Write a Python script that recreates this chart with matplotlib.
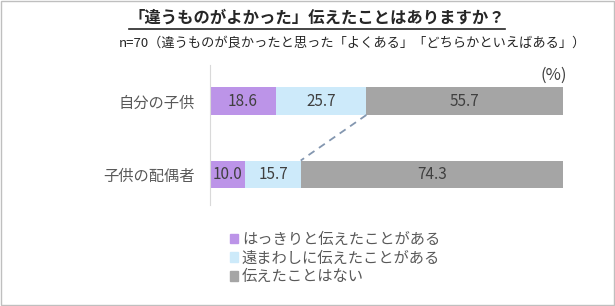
import numpy as np
import matplotlib
matplotlib.use('Agg')
import matplotlib.pyplot as plt
from matplotlib.patches import Patch, Rectangle
from matplotlib.lines import Line2D

plt.rcParams['font.family'] = ['Noto Sans CJK JP', 'DejaVu Sans']

# Данні
categories = ['自分の子供', '子供の配偶者']
series_names = ['はっきりと伝えたことがある', '遠まわしに伝えたことがある', '伝えたことはない']
values = [
    [18.6, 10.0],
    [25.7, 15.7],
    [55.7, 74.3],
]
colors = ['#BC94E8', '#CDEAFA', '#A5A5A5']
title = '「違うものがよかった」伝えたことはありますか？'
subtitle = 'n=70（違うものが良かったと思った「よくある」「どちらかといえばある」）'

fig = plt.figure(figsize=(6.15, 3.06), dpi=100)
ax = fig.add_axes([210 / 615, 1 - 205 / 306, 353 / 615, 140 / 306])

y = np.array([1, 0])
h = 0.38
left = np.zeros(len(categories))
for name, vals, c in zip(series_names, values, colors):
    vals = np.array(vals)
    ax.barh(y, vals, left=left, height=h, color=c, label=name)
    for yi, l, v in zip(y, left, vals):
        ax.text(l + v / 2, yi, f'{v:.1f}', ha='center', va='center',
                fontsize=11, color='#404040')
    left = left + vals

# лінія між сегментами
b1 = values[0][0] + values[1][0]
b2 = values[0][1] + values[1][1]
ax.plot([b1, b2], [1 - h / 2, 0 + h / 2], '--', color='#8497B0', lw=1.3,
        dashes=(4, 3))

ax.set_xlim(0, 100)
ax.set_ylim(-0.415, 1.49)
ax.set_yticks(y)
ax.set_yticklabels(categories, fontsize=11, color='#595959')
ax.tick_params(axis='y', length=0, pad=11)
ax.set_xticks([])
for s in ['top', 'right', 'bottom']:
    ax.spines[s].set_visible(False)
ax.spines['left'].set_color('#D9D9D9')
ax.text(101, 1.49 - 0.03, '(%)', ha='right', va='top', fontsize=12,
        color='#404040', transform=ax.transData)

# Заголовки
t = fig.text(317 / 615, 1 - 18 / 306, title, ha='center', va='center',
             fontsize=11.8, fontweight='bold', color='#262626')
fig.text(119 / 615, 1 - 43 / 306, subtitle, ha='left', va='center',
         fontsize=9.5, color='#262626')

fig.canvas.draw()
bb = t.get_window_extent().transformed(fig.transFigure.inverted())
fig.add_artist(Line2D([bb.x0, bb.x1], [bb.y0 - 0.005, bb.y0 - 0.005],
                      color='#262626', lw=1.2, transform=fig.transFigure))

# Легенда
handles = [Patch(color=c) for c in colors]
fig.legend(handles, series_names, loc='upper left',
           bbox_to_anchor=(222 / 615, 1 - 223 / 306), frameon=False,
           fontsize=11, labelcolor='#595959', handlelength=0.55,
           handleheight=0.55, handletextpad=0.25, labelspacing=0.12,
           borderpad=0)

# Рамка
fig.add_artist(Rectangle((0.002, 0.003), 0.996, 0.994, fill=False,
                         edgecolor='#BFBFBF', lw=1, transform=fig.transFigure))

plt.savefig('out.png', dpi=100)
